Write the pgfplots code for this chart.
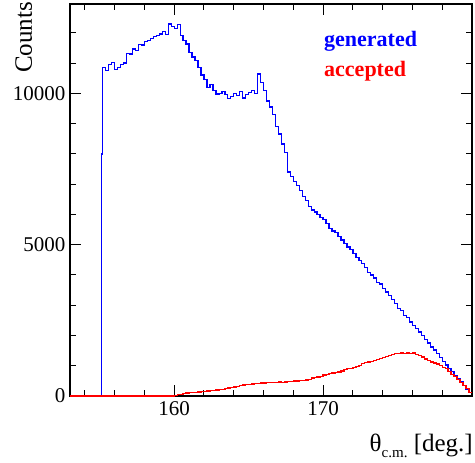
\documentclass[border=0pt]{standalone}
\usepackage{fontspec}
\setmainfont{Liberation Serif}
\usepackage{pgfplots}
\pgfplotsset{compat=1.18}
\begin{document}
\begin{tikzpicture}
\path[use as bounding box] (-70pt,-67pt) rectangle (405pt,396pt);
\begin{axis}[
  at={(0pt,0pt)}, anchor=south west,
  scale only axis, width=402pt, height=392pt,
  xmin=153, xmax=180, ymin=0, ymax=12950,
  clip=false,
  axis line style={line width=1.4pt},
  tick align=inside,
  xtick pos=both, ytick pos=both,
  xticklabel pos=lower, yticklabel pos=left,
  xtick={160,170}, minor xtick={154,156,158,162,164,166,168,172,174,176,178},
  ytick={0,5000,10000}, minor ytick={1000,2000,3000,4000,6000,7000,8000,9000,11000,12000},
  major tick length=11pt, minor tick length=6pt,
  every tick/.style={black, line width=1pt},
  scaled ticks=false,
  /pgf/number format/set thousands separator={},
  /pgf/number format/assume math mode=true,
  ticklabel style={font=\fontsize{21}{24}\selectfont},
  xticklabel style={yshift=-2pt},
  yticklabel style={xshift=-1pt},
]
\addplot[const plot, color={rgb,255:red,0;green,0;blue,255}, line width=1.35pt] coordinates {
(153,0) (155.1,8000) (155.2,10860) (155.4,10750) (155.6,10950) (155.8,11020)
(156.0,10780) (156.2,10850) (156.4,10950) (156.6,11000) (156.8,11320) (157.0,11300)
(157.2,11460) (157.4,11420) (157.6,11620) (157.8,11600) (158.0,11720) (158.2,11740)
(158.4,11800) (158.6,11870) (158.8,11900) (159.0,11960) (159.2,12050) (159.4,11950)
(159.6,12290) (159.8,12200) (160.0,12150) (160.2,12270) (160.4,11900) (160.6,11750)
(160.8,11630) (161.0,11350) (161.2,11200) (161.4,11080) (161.6,10850) (161.8,10600)
(162.0,10450) (162.2,10200) (162.4,10280) (162.6,10100) (162.8,9980) (163.0,9990)
(163.2,10060) (163.4,9950) (163.6,9830) (163.8,9900) (164.0,10000) (164.2,9920)
(164.4,10050) (164.6,9850) (164.8,9950) (165.0,10020) (165.2,10090) (165.4,10000)
(165.6,10640) (165.8,10350) (166.0,10100) (166.2,9750) (166.4,9550) (166.6,9300)
(166.8,8900) (167.0,8650) (167.2,8330) (167.4,8050) (167.6,7400) (167.8,7250)
(168.0,7080) (168.2,6950) (168.4,6780) (168.6,6600) (168.8,6450) (169.0,6250)
(169.2,6150) (169.4,6080) (169.6,6000) (169.8,5900) (170.0,5820) (170.2,5700)
(170.4,5530) (170.6,5450) (170.8,5400) (171.0,5260) (171.2,5150) (171.4,5030)
(171.6,4920) (171.8,4850) (172.0,4700) (172.2,4580) (172.4,4480) (172.6,4370)
(172.8,4250) (173.0,4080) (173.2,4000) (173.4,3900) (173.6,3760) (173.8,3700)
(174.0,3560) (174.2,3430) (174.4,3320) (174.6,3180) (174.8,3060) (175.0,2900)
(175.2,2830) (175.4,2670) (175.6,2590) (175.8,2450) (176.0,2330) (176.2,2220)
(176.4,2110) (176.6,1990) (176.8,1860) (177.0,1750) (177.2,1620) (177.4,1520)
(177.6,1400) (177.8,1280) (178.0,1150) (178.2,1020) (178.4,910) (178.6,800)
(178.8,680) (179.0,560) (179.2,460) (179.4,340) (179.6,230) (179.8,110) (180.0,110)
};
\addplot[const plot, color={rgb,255:red,255;green,0;blue,0}, line width=1.35pt] coordinates {
(153,0) (160.0,20) (160.2,40) (160.4,60) (160.6,80) (160.8,95) (161.0,105)
(161.2,115) (161.4,125) (161.6,135) (161.8,145) (162.0,155) (162.2,165) (162.4,175)
(162.6,185) (162.8,195) (163.0,210) (163.2,225) (163.4,240) (163.6,260) (163.8,285)
(164.0,300) (164.2,320) (164.4,340) (164.6,360) (164.8,380) (165.0,385) (165.2,395)
(165.4,405) (165.6,420) (165.8,425) (166.0,430) (166.2,440) (166.4,445) (166.6,455)
(166.8,450) (167.0,460) (167.2,455) (167.4,465) (167.6,470) (167.8,480) (168.0,490)
(168.2,495) (168.4,505) (168.6,515) (168.8,530) (169.0,555) (169.2,590) (169.4,615)
(169.6,630) (169.8,650) (170.0,690) (170.2,720) (170.4,750) (170.6,760) (170.8,780)
(171.0,795) (171.2,830) (171.4,870) (171.6,900) (171.8,910) (172.0,950) (172.2,985)
(172.4,1015) (172.6,1080) (172.8,1100) (173.0,1120) (173.2,1150) (173.4,1180)
(173.6,1215) (173.8,1240) (174.0,1270) (174.2,1310) (174.4,1340) (174.6,1370)
(174.8,1395) (175.0,1410) (175.2,1420) (175.4,1405) (175.6,1415) (175.8,1400)
(176.0,1420) (176.2,1380) (176.4,1340) (176.6,1290) (176.8,1220) (177.0,1170)
(177.2,1120) (177.4,1090) (177.6,1060) (177.8,1000) (178.0,950) (178.2,900)
(178.4,800) (178.6,720) (178.8,640) (179.0,550) (179.2,440) (179.4,340) (179.6,240)
(179.8,110) (180.0,110)
};
\node[anchor=base west, inner sep=0pt, text={rgb,255:red,0;green,0;blue,255}, font=\fontsize{22}{24}\selectfont\bfseries] at (axis cs:170.06,11540) {generated};
\node[anchor=base west, inner sep=0pt, text={rgb,255:red,255;green,0;blue,0}, font=\fontsize{22}{24}\selectfont\bfseries] at (axis cs:170.06,10571) {accepted};
\node[anchor=base east, rotate=90, inner sep=0pt, font=\fontsize{25}{28}\selectfont] at ([shift={(-38pt,2.3pt)}]rel axis cs:0,1) {Counts};
\node[anchor=base east, inner sep=0pt, font=\fontsize{25}{28}\selectfont] at ([shift={(1pt,-55.7pt)}]rel axis cs:1,0) {θ\raisebox{-0.22em}{\fontsize{15}{15}\selectfont c.m.} [deg.]};
\end{axis}
\end{tikzpicture}
\end{document}
